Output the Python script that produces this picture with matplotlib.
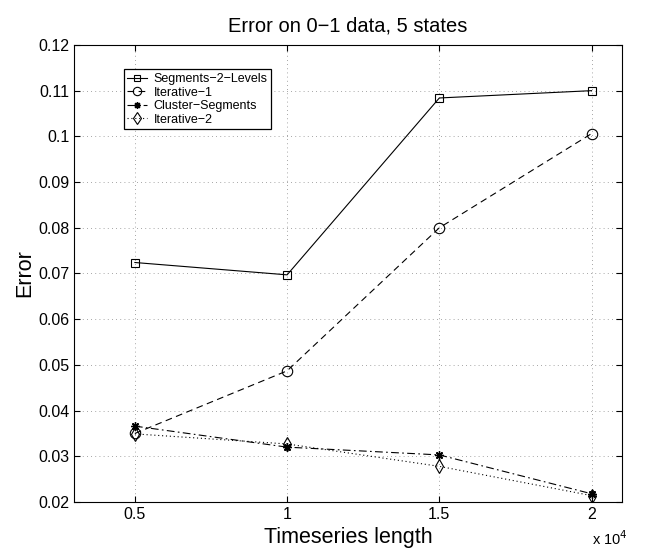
import matplotlib
matplotlib.use("Agg")
import matplotlib.pyplot as plt

plt.rcParams["font.family"] = ["Liberation Sans", "DejaVu Sans"]

# ── Data ────────────────────────────────────────────────────────────────
LENGTHS = [5000, 10000, 15000, 20000]
SEG_2_LEVELS = [0.0724, 0.0697, 0.1084, 0.1100]
ITERATIVE_1 = [0.0350, 0.0487, 0.0800, 0.1006]
CLUSTER_SEGMENTS = [0.0366, 0.0320, 0.0303, 0.0218]
ITERATIVE_2 = [0.0349, 0.0327, 0.0278, 0.0214]
Y_TICKS = [0.02, 0.03, 0.04, 0.05, 0.06, 0.07, 0.08, 0.09, 0.1, 0.11, 0.12]
X_TICKS = [5000, 10000, 15000, 20000]

fig = plt.figure(figsize=(6.52, 5.55), dpi=100, facecolor="white")
ax = fig.add_axes([0.1135, 0.0955, 0.8405, 0.8235])

mk = dict(color="black", linewidth=0.8, markerfacecolor="none",
          markeredgecolor="black", markeredgewidth=0.8)
ax.plot(LENGTHS, SEG_2_LEVELS, linestyle="-", marker="s", markersize=6,
        label="Segments\u22122\u2212Levels", **mk)
ax.plot(LENGTHS, ITERATIVE_1, linestyle=(0, (6, 4)), marker="o", markersize=7.5,
        label="Iterative\u22121", **mk)
ax.plot(LENGTHS, CLUSTER_SEGMENTS, linestyle=(0, (7, 3, 1.5, 3)),
        marker=(8, 2, 0), markersize=6, label="Cluster\u2212Segments",
        color="black", linewidth=0.8, markeredgewidth=1.0)
ax.plot(LENGTHS, ITERATIVE_2, linestyle=(0, (1, 2.5)), marker="d", markersize=7.5,
        label="Iterative\u22122", **mk)

ax.set_xlim(3000, 21000)
ax.set_ylim(0.02, 0.12)
ax.set_xticks(X_TICKS)
ax.set_xticklabels([f"{v / 1e4:g}" for v in X_TICKS])
ax.set_yticks(Y_TICKS)
ax.set_yticklabels([f"{v:g}" for v in Y_TICKS])
ax.tick_params(direction="in", labelsize=11.5, length=4, top=True, right=True)
ax.grid(True, color="#888888", linestyle=(0, (1, 4)), linewidth=0.6)
for sp in ax.spines.values():
    sp.set_linewidth(0.8)

ax.set_title("Error on 0\u22121 data, 5 states", fontsize=14.5, pad=10)
ax.set_xlabel("Timeseries length", fontsize=15.5, labelpad=4)
ax.set_ylabel("Error", fontsize=15.5, labelpad=2)
fig.text(0.908, 0.018, "x 10$^4$", fontsize=10.5)

leg = ax.legend(loc="upper left", bbox_to_anchor=(0.079, 0.96), fontsize=9,
                frameon=True, fancybox=False, edgecolor="black",
                borderpad=0.3, labelspacing=0.12, handlelength=1.6,
                handletextpad=0.5, framealpha=1, markerscale=0.8)
leg.get_frame().set_linewidth(0.9)

fig.savefig("out.png", dpi=100, facecolor="white")
